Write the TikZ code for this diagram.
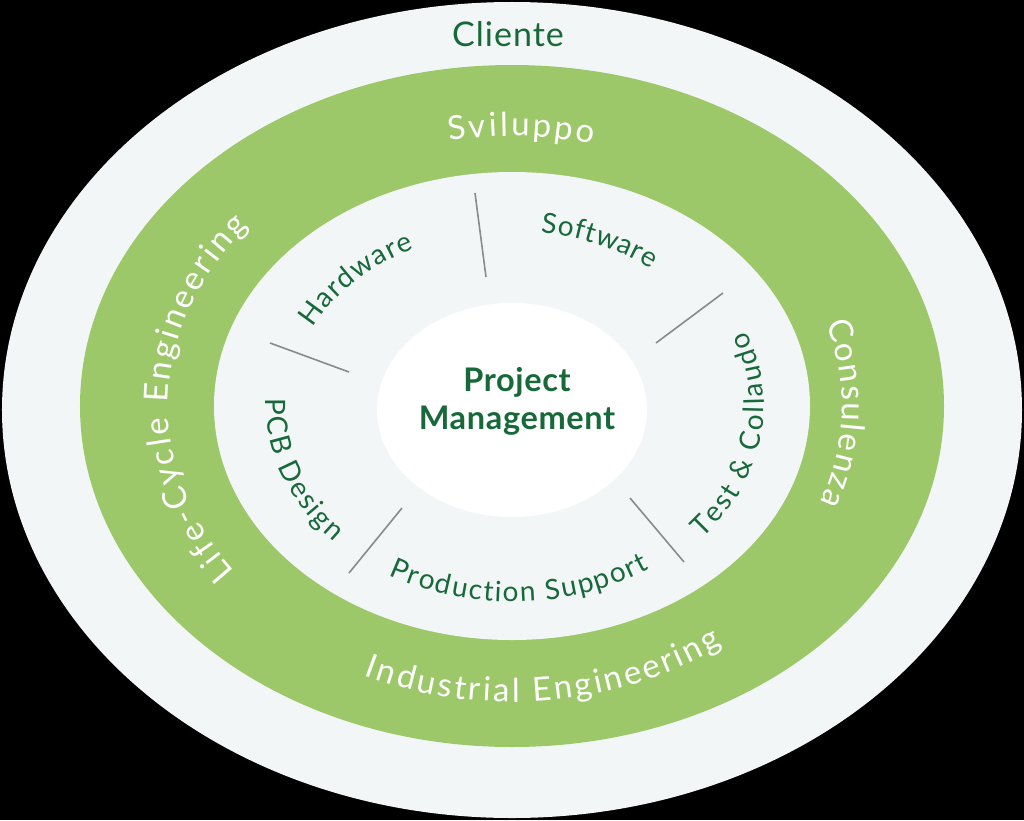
\documentclass[tikz,border=0pt]{standalone}
\usepackage{fontspec}
\setmainfont{Lato}
\newfontfamily\latofont{Lato}
\newfontfamily\clfam[LetterSpace=3]{Lato}
\newfontfamily\pmfam[LetterSpace=2]{Lato}
\usetikzlibrary{decorations.text,shapes.geometric}
\definecolor{lightc}{HTML}{F3F6F7}
\definecolor{bandc}{HTML}{9DC86A}
\definecolor{dk}{HTML}{17693A}
\definecolor{divc}{HTML}{878B8D}
\newcommand\bandfont{\latofont\fontsize{33}{40}\selectfont}
\newcommand\ringfont{\latofont\fontsize{28}{34}\selectfont}
\tikzset{
  bandtext/.style={decorate, decoration={text along path, text={|\bandfont|#1},
      text color=white, text align={fit to path}, raise=-10pt}},
  ringtext/.style={decorate, decoration={text along path, text={|\ringfont|#1},
      text color=dk, text align={fit to path}, raise=-8pt}},
  divline/.style={draw=divc, line width=1.6pt},
}
\begin{document}
\begin{tikzpicture}[x=1pt,y=1pt]
\fill[black] (-512,-410) rectangle (512,410);
\useasboundingbox (-512,-410) rectangle (512,410);
% rings
\fill[lightc] (0,0) ellipse[x radius=510pt, y radius=408pt];
\fill[bandc] (0,4) ellipse[x radius=432pt, y radius=341pt];
\fill[lightc] (0,4) ellipse[x radius=298pt, y radius=234pt];
\node[ellipse, fill=white, minimum width=270pt, minimum height=214pt, inner sep=0pt] (pm) at (0,0) {};
% straight labels
\node[anchor=base, text=dk, font=\clfam\fontsize{34}{40}\selectfont, inner sep=0pt] (cliente) at (-4,363) {Cliente};
\node[align=center, text=dk, font=\pmfam\bfseries\fontsize{32.5}{38}\selectfont, inner sep=0pt] (pmlabel) at (5,9) {Project\\Management};
% outer band texts
\path[bandtext={Sviluppo}] ([shift={(0pt,4pt)}]100.9:340pt and 280pt)
  arc[start angle=100.9, end angle=75.9, x radius=340pt, y radius=280pt];
\path[bandtext={Consulenza}] ([shift={(0pt,4pt)}]17.9:340pt and 280pt)
  arc[start angle=17.9, end angle=-21.1, x radius=340pt, y radius=280pt];
\path[bandtext={Industrial Engineering}] ([shift={(0pt,4pt)}]-114.7:347pt and 286pt)
  arc[start angle=-114.7, end angle=-53.7, x radius=347pt, y radius=286pt];
\path[bandtext={Life-Cycle Engineering}] ([shift={(0pt,4pt)}]216.5:354pt and 289pt)
  arc[start angle=216.5, end angle=139.8, x radius=354pt, y radius=289pt];
% inner ring texts
\path[ringtext={Hardware}] ([shift={(0pt,4pt)}]153.1:231pt and 183pt)
  arc[start angle=153.1, end angle=115.8, x radius=231pt, y radius=183pt];
\path[ringtext={Software}] ([shift={(0pt,4pt)}]82.6:231pt and 183pt)
  arc[start angle=82.6, end angle=51.6, x radius=231pt, y radius=183pt];
\path[ringtext={Test {\&} Collaudo}] ([shift={(0pt,4pt)}]-40.7:244pt and 194pt)
  arc[start angle=-40.7, end angle=21.8, x radius=244pt, y radius=194pt];
\path[ringtext={Production Support}] ([shift={(0pt,4pt)}]-120.3:238pt and 188pt)
  arc[start angle=-120.3, end angle=-55.8, x radius=238pt, y radius=188pt];
\path[ringtext={PCB Design}] ([shift={(0pt,4pt)}]177.6:238pt and 188pt)
  arc[start angle=177.6, end angle=223.5, x radius=238pt, y radius=188pt];
% dividers
\coordinate (d1a) at (-37,217); \coordinate (d1b) at (-26,133);
\coordinate (d2a) at (211,117); \coordinate (d2b) at (144,67);
\coordinate (d3a) at (118,-88); \coordinate (d3b) at (172,-152);
\coordinate (d4a) at (-110,-98); \coordinate (d4b) at (-163,-163);
\coordinate (d5a) at (-242,67); \coordinate (d5b) at (-163,38);
\draw[divline] (d1a) -- (d1b);
\draw[divline] (d2a) -- (d2b);
\draw[divline] (d3a) -- (d3b);
\draw[divline] (d4a) -- (d4b);
\draw[divline] (d5a) -- (d5b);
\end{tikzpicture}
\end{document}
